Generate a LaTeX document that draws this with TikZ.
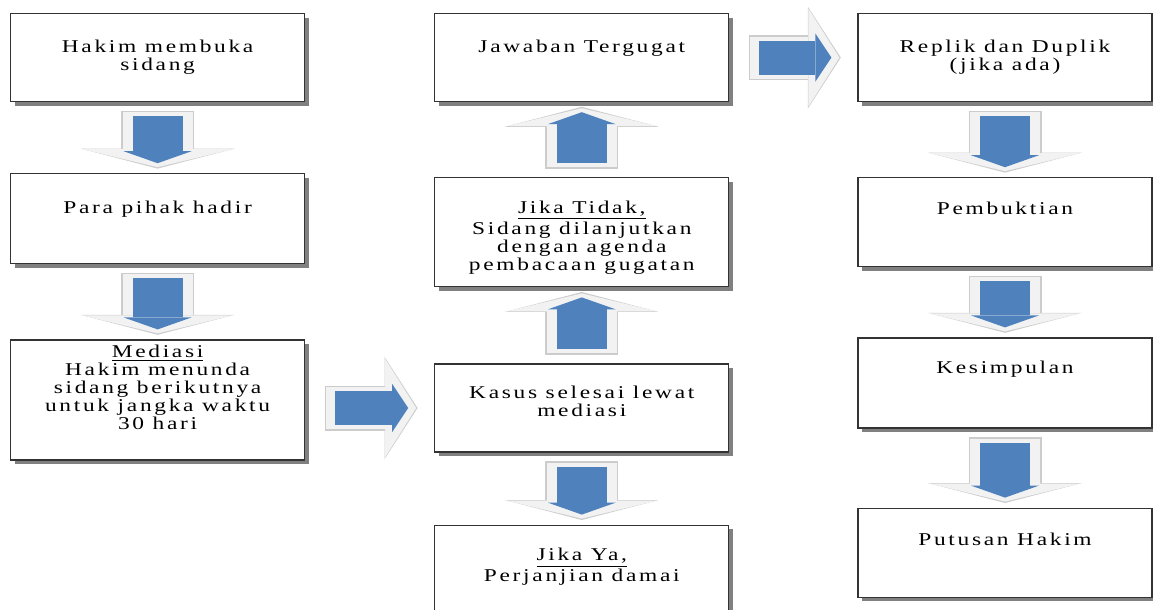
\documentclass[tikz,border=0pt]{standalone}
\usepackage{fontspec}
\setmainfont{Liberation Serif}[FakeStretch=1.3, LetterSpace=15]
\usepackage{tikz}
\usetikzlibrary{arrows.meta, positioning, shadows}
\definecolor{arrowblue}{HTML}{4F81BD}
\tikzset{
    box/.style 2 args={
        draw=black!80, line width=0.6pt, fill=white, inner sep=0pt,
        drop shadow={shadow xshift=2pt, shadow yshift=-2pt, fill=black!50, opacity=1},
        font=\fontsize{9pt}{9pt}\selectfont,
        execute at begin node={\begin{minipage}[t][#1][t]{147pt}\centering\vspace*{#2}},
        execute at end node={\end{minipage}}
    },
    vflow/.style={
        draw=arrowblue, line width=25pt,
        -{Triangle[length=6pt, width=34pt, line width=0pt]},
        shorten <=7pt, shorten >=5pt,
        preaction={draw=gray!40, line width=36.5pt,
            -{Triangle[length=10pt, width=77pt, line width=0pt]},
            shorten <=4.3pt, shorten >=2.3pt},
        preaction={draw=gray!10, line width=35pt,
            -{Triangle[length=9pt, width=75pt, line width=0pt]},
            shorten <=5pt, shorten >=3pt}
    },
    hflow/.style={
        draw=arrowblue, line width=17pt,
        -{Triangle[length=8pt, width=24pt, line width=0pt]},
        shorten <=15pt, shorten >=13pt,
        preaction={draw=gray!40, line width=22.5pt,
            -{Triangle[length=16.5pt, width=51pt, line width=0pt]},
            shorten <=9.8pt, shorten >=8.3pt},
        preaction={draw=gray!10, line width=21pt,
            -{Triangle[length=15.5pt, width=49pt, line width=0pt]},
            shorten <=10.5pt, shorten >=9pt}
    }
}

\begin{document}
\begin{tikzpicture}
    \useasboundingbox (0,0) rectangle (576.5pt,-305pt);

    % first column
    \node (hakim) [box={44pt}{13pt}, anchor=north west] at (5pt,-6.5pt) {Hakim membuka\\sidang};
    \node (pihak) [box={45pt}{13.5pt}, below = 35.5pt of hakim] {Para pihak hadir};
    \node (mediasi) [box={60pt}{2.5pt}, below = 37.5pt of pihak] {\underline{Mediasi}\\Hakim menunda\\sidang berikutnya\\untuk jangka waktu\\30 hari};

    % second column
    \node (jawaban) [box={44pt}{13pt}, right = 64.5pt of hakim] {Jawaban Tergugat};
    \node (tidak) [box={54.5pt}{11.5pt}, below = 37.5pt of jawaban] {\underline{Jika Tidak,}\\Sidang dilanjutkan\\dengan agenda\\pembacaan gugatan};
    \node (kasus) [box={44pt}{11pt}, below = 38pt of tidak] {Kasus selesai lewat\\mediasi};
    \node (damai) [box={43.5pt}{11.5pt}, below = 36pt of kasus] {\underline{Jika Ya,}\\Perjanjian damai};

    % third column
    \node (replik) [box={44pt}{13pt}, right = 64pt of jawaban] {Replik dan Duplik\\(jika ada)};
    \node (bukti) [box={44.5pt}{12pt}, below = 37.5pt of replik] {Pembuktian};
    \node (simpul) [box={45pt}{11.5pt}, below = 35pt of bukti] {Kesimpulan};
    \node (putusan) [box={44.5pt}{12.5pt}, below = 39.5pt of simpul] {Putusan Hakim};

    \draw
        (hakim) edge[vflow] (pihak)
        (pihak) edge[vflow] (mediasi)
        (mediasi.east |- kasus.west) edge[hflow] (kasus.west)
        (kasus) edge[vflow] (tidak)
        (kasus) edge[vflow] (damai)
        (tidak) edge[vflow] (jawaban)
        (jawaban) edge[hflow] (replik)
        (replik) edge[vflow] (bukti)
        (bukti) edge[vflow] (simpul)
        (simpul) edge[vflow] (putusan)
        ;
\end{tikzpicture}
\end{document}
